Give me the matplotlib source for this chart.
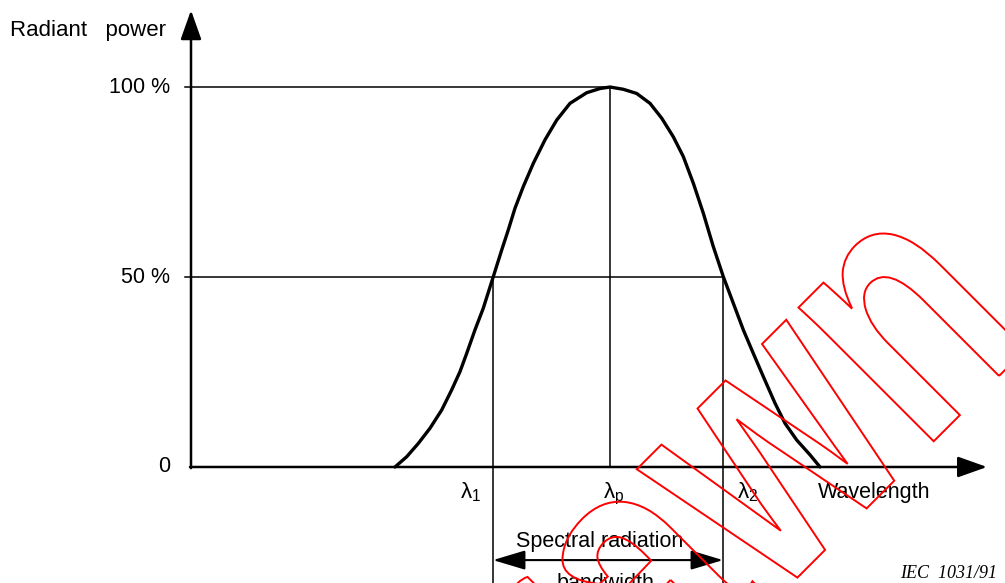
import numpy as np
import matplotlib
matplotlib.use("Agg")
import matplotlib.pyplot as plt
from matplotlib.textpath import TextPath
from matplotlib.patches import PathPatch
from matplotlib.font_manager import FontProperties
import matplotlib.transforms as mtransforms

plt.rcParams['font.family'] = ['Liberation Sans', 'DejaVu Sans']
plt.rcParams['mathtext.fontset'] = 'custom'
plt.rcParams['mathtext.rm'] = 'Liberation Sans'
plt.rcParams['mathtext.it'] = 'Liberation Sans'
plt.rcParams['mathtext.default'] = 'regular'

# Spektralkurve (Wellenlaenge in willkuerlichen Einheiten, Leistung in %)
wavelength = [20.4, 21.57, 22.73, 23.9, 25.07, 26.07, 26.9, 27.57, 28.4, 29.23, 30.23,
              31.07, 31.73, 32.4, 33.23, 34.23, 35.4, 36.57, 37.9, 39.57, 40.9, 41.9,
              43.23, 44.57, 45.9, 47.07, 48.23, 49.23, 50.23, 51.23, 52.23, 53.23,
              54.23, 55.23, 56.23, 57.23, 58.4, 59.4, 60.57, 61.9, 62.9]
power = [0, 2.7, 6.2, 10.2, 15.0, 20.3, 25.1, 29.9, 36.1, 41.8, 50.1,
         57.1, 62.4, 68.1, 73.8, 79.9, 86.1, 91.3, 95.7, 98.5, 99.6, 100,
         99.4, 98.3, 95.7, 91.8, 86.9, 81.7, 74.7, 66.8, 58.0, 50.1,
         43.1, 36.1, 29.9, 23.8, 16.8, 11.5, 7.1, 3.2, 0]

lam1, lam_p, lam2 = 30.2, 41.9, 53.2
ytick_vals = [0, 50, 100]
ytick_labels = ["0", "50 %", "100 %"]
lam_labels = [r"$\lambda_1$", r"$\lambda_p$", r"$\lambda_2$"]

W, H = 1005, 583
fig = plt.figure(figsize=(W / 100, H / 100), dpi=100)
ax = fig.add_axes([0, 0, 1, 1])
ax.set_xlim(-19.1, 81.4)
ax.set_ylim(-30.53, 122.9)
ax.axis('off')

bottom = -30.53
lw_guide = 1.1

# Hilfslinien
ax.plot([0, lam_p], [100, 100], color='black', lw=lw_guide)
ax.plot([0, lam2], [50, 50], color='black', lw=lw_guide)
ax.plot([lam1, lam1], [50, bottom], color='black', lw=lw_guide)
ax.plot([lam_p, lam_p], [100, 0], color='black', lw=lw_guide)
ax.plot([lam2, lam2], [50, bottom], color='black', lw=lw_guide)

# Kurve
ax.plot(wavelength, power, color='black', lw=2.4, solid_joinstyle='round',
        solid_capstyle='round')

# Achsen mit Pfeilen
arr = dict(arrowstyle='-|>,head_length=0.9,head_width=0.32', lw=1.8, color='black',
           mutation_scale=20, shrinkA=0, shrinkB=0)
ax.annotate('', xy=(0, 120.2), xytext=(0, -0.3), arrowprops=arr)
ax.annotate('', xy=(79.6, 0), xytext=(-0.1, 0), arrowprops=arr)

for v, lab in zip(ytick_vals, ytick_labels):
    if v > 0:
        ax.plot([-0.6, 0], [v, v], color='black', lw=lw_guide)
    ax.text(-2.1, v, lab, ha='right', va='center', fontsize=15.5)

ax.text(-18.1, 115, "Radiant   power", ha='left', va='center', fontsize=16)

for xv, lab in zip([lam1 - 2.2, lam_p + 0.4, lam2 + 2.5], lam_labels):
    ax.text(xv, -3.6, lab, ha='center', va='top', fontsize=16)

ax.text(62.7, -6.8, "Wavelength", ha='left', va='center', fontsize=15.5)
ax.text(40.9, -19.7, "Spectral radiation", ha='center', va='center', fontsize=15.5)
ax.text(41.4, -30.6, "bandwidth", ha='center', va='center', fontsize=15.5)
ax.annotate('', xy=(lam1, -24.5), xytext=(lam2, -24.5),
            arrowprops=dict(arrowstyle='<|-|>,head_length=1.0,head_width=0.3', lw=1.5,
                            color='black', mutation_scale=20, shrinkA=0, shrinkB=0))
ax.text(80.6, -27.9, "IEC  1031/91", ha='right', va='center', fontsize=13,
        family='Liberation Serif', style='italic')

# Wasserzeichen (fett, schmal gestellt, um 45 Grad gedreht)
tp = TextPath((0, 0), "Withdrawn", size=360,
              prop=FontProperties(family='Liberation Sans', weight='bold'))
tr = mtransforms.Affine2D().scale(0.75, 1).rotate_deg(45).translate(63, -729)
wm = PathPatch(tp, facecolor='none', edgecolor='#ff0000', lw=1.4,
               transform=tr + mtransforms.IdentityTransform(), zorder=10)
fig.patches.append(wm)

fig.savefig("out.png", dpi=100)
